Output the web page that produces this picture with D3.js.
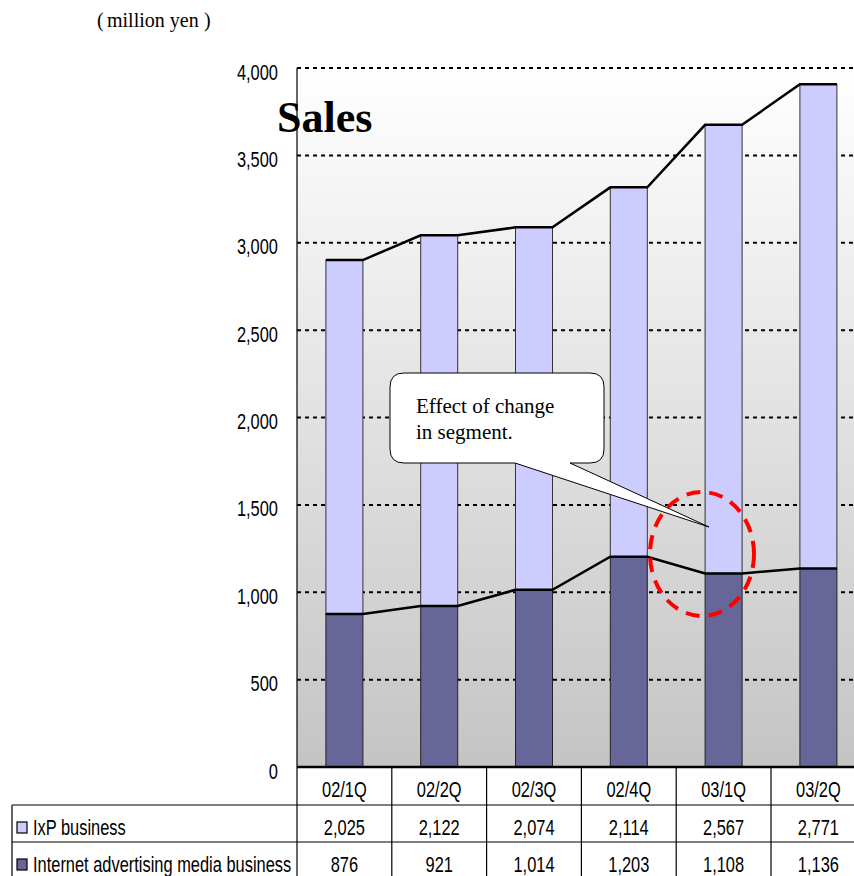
<!DOCTYPE html>
<html>
<head>
<meta charset="utf-8">
<script src="https://cdn.jsdelivr.net/npm/d3@7"></script>
<style>
  html, body { margin: 0; padding: 0; background: #fff; }
  svg { display: block; }
</style>
</head>
<body>
<svg id="chart" width="854" height="876"></svg>
<script>
// Quarterly sales by segment (million yen)
const categories = ["02/1Q", "02/2Q", "02/3Q", "02/4Q", "03/1Q", "03/2Q"];
const media = [876, 921, 1014, 1203, 1108, 1136];   // Internet advertising media business
const ixp = [2025, 2122, 2074, 2114, 2567, 2771];   // IxP business
const yTicks = [0, 500, 1000, 1500, 2000, 2500, 3000, 3500, 4000];
const seriesNames = ["IxP business", "Internet advertising media business"];
const seriesColors = ["#ccccff", "#666699"];

const svg = d3.select("#chart");
const fmt = d3.format(",");
const SANS = "Liberation Sans, Arial, sans-serif";
const SERIF = "Liberation Serif, Times New Roman, serif";
const NARROW = 0.73;   // horizontal squeeze for the condensed sans labels
const LABEL_SIZE = 22.5;

// condensed sans text: anchored at (x, y) and squeezed horizontally
function narrowText(parent, x, y, str, anchor) {
  return parent.append("text")
    .attr("transform", `translate(${x},${y}) scale(${NARROW},1)`)
    .attr("text-anchor", anchor || "start")
    .attr("font-family", SANS).attr("font-size", LABEL_SIZE).attr("fill", "#000")
    .text(str);
}

const plotLeft = 297, plotTop = 68, plotBottom = 767;
const bandW = 94.8;
const plotRight = plotLeft + bandW * categories.length;

const x = d3.scaleBand().domain(categories).range([plotLeft, plotRight]).paddingInner(0).paddingOuter(0);
const y = d3.scaleLinear().domain([0, 4000]).range([plotBottom, plotTop]);

// plot background gradient
const defs = svg.append("defs");
const grad = defs.append("linearGradient").attr("id", "bg").attr("x1", 0).attr("y1", 0).attr("x2", 0).attr("y2", 1);
grad.append("stop").attr("offset", "0%").attr("stop-color", "#ffffff");
grad.append("stop").attr("offset", "100%").attr("stop-color", "#c4c4c4");
svg.append("rect").attr("x", plotLeft).attr("y", plotTop).attr("width", plotRight - plotLeft).attr("height", plotBottom - plotTop)
  .attr("fill", "url(#bg)");

// gridlines
svg.append("g").selectAll("line").data(yTicks.filter(d => d > 0)).join("line")
  .attr("x1", plotLeft).attr("x2", plotRight)
  .attr("y1", d => y(d)).attr("y2", d => y(d))
  .attr("stroke", "#000").attr("stroke-width", 2).attr("stroke-dasharray", "4,4");

// y axis labels (axis generator for placement, condensed text)
const yAxis = d3.axisLeft(y).tickValues(yTicks).tickFormat(fmt).tickSize(0).tickPadding(0);
const ga = svg.append("g").call(yAxis);
ga.select(".domain").remove();
ga.selectAll(".tick text").remove();
ga.selectAll(".tick").each(function (d) {
  narrowText(d3.select(this), 278, 11, fmt(d), "end");
});

// left axis line
svg.append("line").attr("x1", plotLeft).attr("x2", plotLeft).attr("y1", plotTop).attr("y2", plotBottom)
  .attr("stroke", "#000").attr("stroke-width", 1.2);

// stacked bars
const barW = 37;
const stacks = categories.map((c, i) => ({ c, m: media[i], p: ixp[i], total: media[i] + ixp[i] }));
const bx = c => x(c) + x.bandwidth() / 2 - barW / 2;

const gb = svg.append("g");
gb.selectAll("rect.media").data(stacks).join("rect").attr("class", "media")
  .attr("x", d => bx(d.c)).attr("width", barW)
  .attr("y", d => y(d.m)).attr("height", d => y(0) - y(d.m))
  .attr("fill", seriesColors[1]).attr("stroke", "#222").attr("stroke-width", 1);
gb.selectAll("rect.ixp").data(stacks).join("rect").attr("class", "ixp")
  .attr("x", d => bx(d.c)).attr("width", barW)
  .attr("y", d => y(d.total)).attr("height", d => y(d.m) - y(d.total))
  .attr("fill", seriesColors[0]).attr("stroke", "#333").attr("stroke-width", 1);

// series lines connecting bar corners
function seriesLine(accessor) {
  const pts = [];
  stacks.forEach(d => {
    pts.push([bx(d.c), y(accessor(d))]);
    pts.push([bx(d.c) + barW, y(accessor(d))]);
  });
  return d3.line()(pts);
}
svg.append("path").attr("d", seriesLine(d => d.m)).attr("fill", "none")
  .attr("stroke", "#000").attr("stroke-width", 2.5);
svg.append("path").attr("d", seriesLine(d => d.total)).attr("fill", "none")
  .attr("stroke", "#000").attr("stroke-width", 2.5);

// zero line
svg.append("line").attr("x1", plotLeft).attr("x2", plotRight).attr("y1", plotBottom).attr("y2", plotBottom)
  .attr("stroke", "#000").attr("stroke-width", 2.5);

// callout bubble
const cg = svg.append("g");
const bubble = "M 404 373 L 590 373 Q 604 373 604 387 L 604 449 Q 604 463 590 463 L 570 463 L 709 527 L 515 463 L 404 463 Q 390 463 390 449 L 390 387 Q 390 373 404 373 Z";
cg.append("path").attr("d", bubble).attr("fill", "#fff").attr("stroke", "#000").attr("stroke-width", 1);
cg.append("text").attr("x", 416).attr("y", 413).attr("font-family", SERIF)
  .attr("font-size", 21).text("Effect of change");
cg.append("text").attr("x", 416).attr("y", 439).attr("font-family", SERIF)
  .attr("font-size", 21).text("in segment.");

// red dashed ellipse
svg.append("ellipse").attr("cx", 702).attr("cy", 554).attr("rx", 52).attr("ry", 62)
  .attr("fill", "none").attr("stroke", "#ff0000").attr("stroke-width", 4)
  .attr("stroke-dasharray", "14,9");

// titles
svg.append("text").attr("x", 277).attr("y", 132).attr("font-family", SERIF)
  .attr("font-weight", "bold").attr("font-size", 44).text("Sales");
const unit = svg.append("text").attr("y", 27).attr("font-family", SERIF).attr("font-size", 20);
unit.append("tspan").attr("x", 97).text("(");
unit.append("tspan").attr("x", 107).text("million yen");
unit.append("tspan").attr("x", 204).text(")");

// data table
const tbl = svg.append("g");
const rowBot = 876;
const tline = (x1, y1, x2, y2, w) => tbl.append("line").attr("x1", x1).attr("y1", y1).attr("x2", x2).attr("y2", y2)
  .attr("stroke", "#000").attr("stroke-width", w || 1.2);
tline(12, 805, plotRight, 805);
tline(12, 842, plotRight, 842);
tline(12, 805, 12, rowBot);
tline(plotLeft, plotBottom, plotLeft, rowBot);
categories.forEach((c, i) => { if (i > 0) tline(x(c), plotBottom, x(c), rowBot); });

categories.forEach(c => narrowText(tbl, x(c) + x.bandwidth() / 2, 797, c, "middle"));

const rows = [ixp, media];
const rowBase = [835, 872];
rows.forEach((vals, r) => {
  const by = rowBase[r];
  vals.forEach((v, i) => narrowText(tbl, x(categories[i]) + x.bandwidth() / 2, by, fmt(v), "middle"));
  tbl.append("rect").attr("x", 17).attr("y", by - 13).attr("width", 10).attr("height", 11)
    .attr("fill", seriesColors[r]).attr("stroke", "#000").attr("stroke-width", 1.2);
  narrowText(tbl, 33, by, seriesNames[r], "start");
});
</script>
</body>
</html>
